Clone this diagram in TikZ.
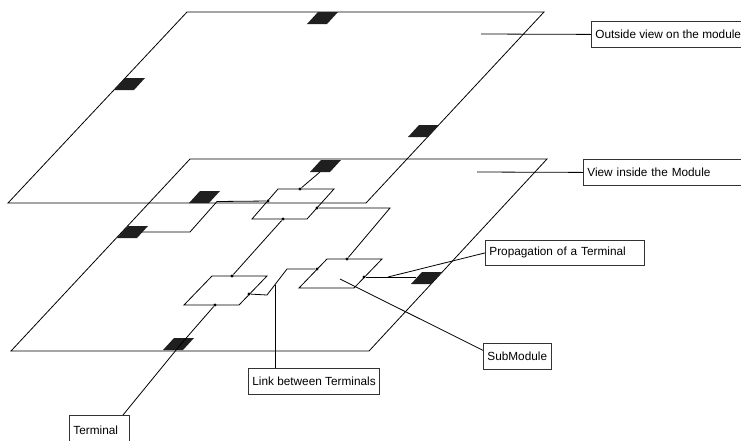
\documentclass[tikz,border=0pt]{standalone}
\usepackage{fontspec}
\setmainfont{Liberation Sans}
\usetikzlibrary{positioning}
\newcommand{\termpad}[1]{\fill[termfill] (#1) -- ++(20,0) -- ++(11,-12) -- ++(-20,0) -- cycle;}
\begin{document}
\begin{tikzpicture}[
	x=1pt, y=-1pt,
	line width=0.8pt,
	font=\fontsize{11.8}{14}\selectfont
]
\tikzset{
    termfill/.style = {fill=black!88},
    dot/.style = {circle, fill=black, inner sep=0pt, minimum size=3.4pt},
    lbl/.style = {rectangle, draw=black!80, anchor=north west, inner xsep=4pt, minimum height=26pt, align=left},
    wire/.style = {-, black}
}
\useasboundingbox (0,0) rectangle (741,440);
% outside view
\draw (8,203) -- (366,203) -- (544,12) -- (187,12) -- cycle;
\termpad{307,24}
\termpad{114,90}
\termpad{408,137}
\termpad{189,203}
% inside view
\draw (11,351) -- (369,351) -- (547,159) -- (190,159) -- cycle;
\termpad{310,172}
\termpad{117,238}
\termpad{411,284}
\termpad{163,350}
\coordinate (tt) at (320,172);
\coordinate (tl) at (142,232);
\coordinate (tr) at (416,277);
\coordinate (tb) at (181,344);
% submodules
\draw (252,219) -- (307,219) -- (334,189) -- (278,189) -- cycle;
\draw (299,288) -- (354,288) -- (382,259) -- (327,259) -- cycle;
\draw (184,305) -- (239,305) -- (267,276) -- (212,276) -- cycle;
\node[dot] at (300,189) (s1t) {};
\node[dot] at (268,201) (s1l) {};
\node[dot] at (317,208) (s1r) {};
\node[dot] at (283,219) (s1b) {};
\node[dot] at (347,259) (s2t) {};
\node[dot] at (317,269) (s2l) {};
\node[dot] at (364,277) (s2r) {};
\node[dot] at (232,276) (s3t) {};
\node[dot] at (249,294) (s3r) {};
\node[dot] at (215,305) (s3b) {};
%
\draw[wire] (tt) -- (s1t);
\draw[wire] (s1r) -- (390,208) -- (s2t);
\draw[wire] (s1b) -- (s3t);
\draw[wire] (s3r) -- (267,295) -- (287,269) -- (s2l);
\draw[wire] (s2r) -- (tr);
\draw[wire] (tl) -- (190,232) -- (217,201.5) -- (s1l);
\draw[wire] (s3b) -- (tb);
% labels
\node[lbl] at (591,21) (outv) {Outside view on the module};
\node[lbl, text width=162pt] at (583,159) (inv) {View inside the Module};
\node[lbl, text width=151pt, minimum height=25pt] at (485,240) (prop) {Propagation of a Terminal};
\node[lbl] at (483,343) (subm) {SubModule};
\node[lbl] at (248,368) (lnk) {Link between Terminals};
\node[lbl, text width=52pt, minimum height=29pt] at (69,415) (term) {Terminal};
%
\coordinate (po) at (481,34);
\coordinate (pi) at (477,172);
\coordinate (pp) at (388,277);
\coordinate (ps) at (340,279);
\coordinate (pl) at (275,285);
\draw[wire] (po) -- (outv.west);
\draw[wire] (pi) -- (inv.west);
\draw[wire] (pp) -- (prop.west);
\draw[wire] (ps) -- (subm.170);
\draw[wire] (pl) -- (pl |- lnk.north);
\draw[wire] (tb) -- (123,415);
\end{tikzpicture}
\end{document}
